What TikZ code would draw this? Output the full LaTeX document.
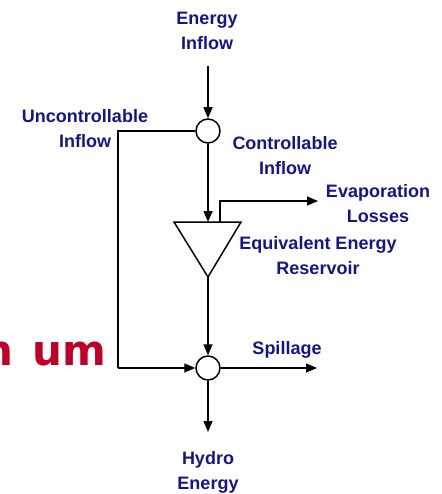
\documentclass[tikz,border=0pt]{standalone}
\usepackage{fontspec}
\setmainfont{Liberation Sans}
\newfontfamily\redfont{DejaVu Sans}
\usetikzlibrary{arrows.meta}
\definecolor{navy}{RGB}{20,20,140}
\definecolor{redtxt}{RGB}{190,0,40}
\begin{document}
\begin{tikzpicture}[x=1pt,y=-1pt,line width=1.5pt,
  lbl/.style={text=navy,font=\fontsize{18}{25}\selectfont\bfseries,align=center,inner sep=0pt},
  jn/.style={circle,draw,fill=white,minimum size=24pt,inner sep=0pt,line width=1.5pt},
  arr/.style={-{Triangle[length=11pt,width=9pt]}}]
\useasboundingbox (0,0) rectangle (441,494);
\clip (0,0) rectangle (441,494);
% red partial text
\node[anchor=base east,text=redtxt,font=\redfont\fontsize{42}{42}\selectfont\bfseries,inner sep=0pt] (red) at (107,365) {n\hspace{19pt}um};
% junctions
\node[jn] (top) at (208,131) {};
\node[jn] (bot) at (208,368) {};
% reservoir triangle
\coordinate (tl) at (174,222);
\coordinate (tr) at (241,222);
\coordinate (apex) at (208,277);
\coordinate (tin) at (208,222);
\coordinate (evs) at (220,222);
\draw (tl) -- (tr) -- (apex) -- cycle;
% labels
\node[lbl] (ei) at (207,31) {Energy\\Inflow};
\node[lbl] (ui) at (85,129) {Uncontrollable\\Inflow};
\node[lbl] (ci) at (285,156) {Controllable\\Inflow};
\node[lbl] (ev) at (378,204) {Evaporation\\Losses};
\node[lbl] (eq) at (318,256) {Equivalent Energy\\Reservoir};
\node[lbl] (sp) at (287,350) {Spillage};
\node[lbl] (he) at (208,472) {Hydro\\Energy};
% connector coordinates
\coordinate (eis) at (208,66);
\coordinate (evc) at (220,201);
\coordinate (eve) at (318,201);
\coordinate (spe) at (317,368);
\coordinate (hee) at (208,432);
\coordinate (uc1) at (118,131);
\coordinate (uc2) at (118,368);
% connectors
\draw[arr] (eis) -- (top.north);
\draw[arr] (top.south) -- (tin);
\draw (top.west) -- (uc1) -- (uc2);
\draw[arr] (uc2) -- (bot.west);
\draw[arr] (evs) -- (evc) -- (eve);
\draw[arr] (apex) -- (bot.north);
\draw[arr] (bot.east) -- (spe);
\draw[arr] (bot.south) -- (hee);
\end{tikzpicture}
\end{document}
